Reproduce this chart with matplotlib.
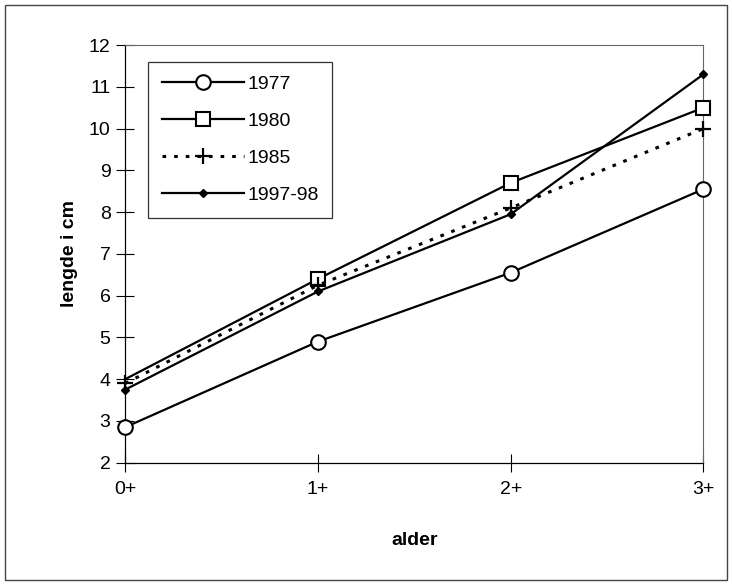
import matplotlib
matplotlib.use("Agg")
import matplotlib.pyplot as plt
from matplotlib.patches import Rectangle

plt.rcParams['font.family'] = ['Liberation Sans', 'DejaVu Sans']

ages = ["0+", "1+", "2+", "3+"]
y1977 = [2.85, 4.9, 6.55, 8.55]
y1980 = [4.0, 6.4, 8.7, 10.5]
y1985 = [3.9, 6.25, 8.1, 10.0]
y1997 = [3.75, 6.1, 7.95, 11.3]
yticks = list(range(2, 13))

fig = plt.figure(figsize=(7.32, 5.85), dpi=100)
fig.patches.append(Rectangle((0.007, 0.008), 0.986, 0.984, transform=fig.transFigure,
                             fill=False, edgecolor='#444444', linewidth=1.0))
ax = fig.add_axes([0.171, 0.209, 0.790, 0.714])
x = list(range(len(ages)))

ax.plot(x, y1977, '-', color='black', lw=1.6, marker='o', markersize=10.5,
        markerfacecolor='white', markeredgecolor='black', markeredgewidth=1.5, label='1977',
        zorder=3, clip_on=False)
ax.plot(x, y1980, '-', color='black', lw=1.6, marker='s', markersize=10,
        markerfacecolor='white', markeredgecolor='black', markeredgewidth=1.5, label='1980',
        markevery=[1, 2, 3], zorder=3, clip_on=False)
ax.plot(x, y1985, linestyle=(0, (1.2, 2.6)), color='black', lw=2.2, marker='+', markersize=11,
        markeredgewidth=1.6, label='1985', zorder=3, clip_on=False)
ax.plot(x, y1997, '-', color='black', lw=1.6, marker='D', markersize=4.5,
        markerfacecolor='black', markeredgecolor='black', label='1997-98', zorder=3,
        clip_on=False)

ax.set_xlim(0, 3)
ax.set_ylim(2, 12)
ax.set_xticks(x)
ax.set_xticklabels(ages)
ax.set_yticks(yticks)
ax.tick_params(axis='both', direction='inout', length=13, width=0.8, labelsize=14, colors='black')
ax.tick_params(axis='x', pad=7)
ax.tick_params(axis='y', pad=4)
for s in ['top', 'right']:
    ax.spines[s].set_color('#666666')
    ax.spines[s].set_linewidth(0.8)
    ax.spines[s].set_linestyle((0, (2, 1)))
for s in ['left', 'bottom']:
    ax.spines[s].set_color('black')
    ax.spines[s].set_linewidth(0.9)

ax.set_xlabel('alder', fontsize=14, fontweight='bold', labelpad=24)
ax.set_ylabel('lengde i cm', fontsize=14, fontweight='bold', labelpad=8)

leg = ax.legend(loc='upper left', bbox_to_anchor=(0.040, 0.96), fontsize=14, frameon=True,
                fancybox=False, edgecolor='black', handlelength=4.2, borderpad=0.7,
                labelspacing=1.0, handletextpad=0.2, borderaxespad=0)
leg.get_frame().set_linewidth(0.9)

fig.savefig('out.png', dpi=100)
